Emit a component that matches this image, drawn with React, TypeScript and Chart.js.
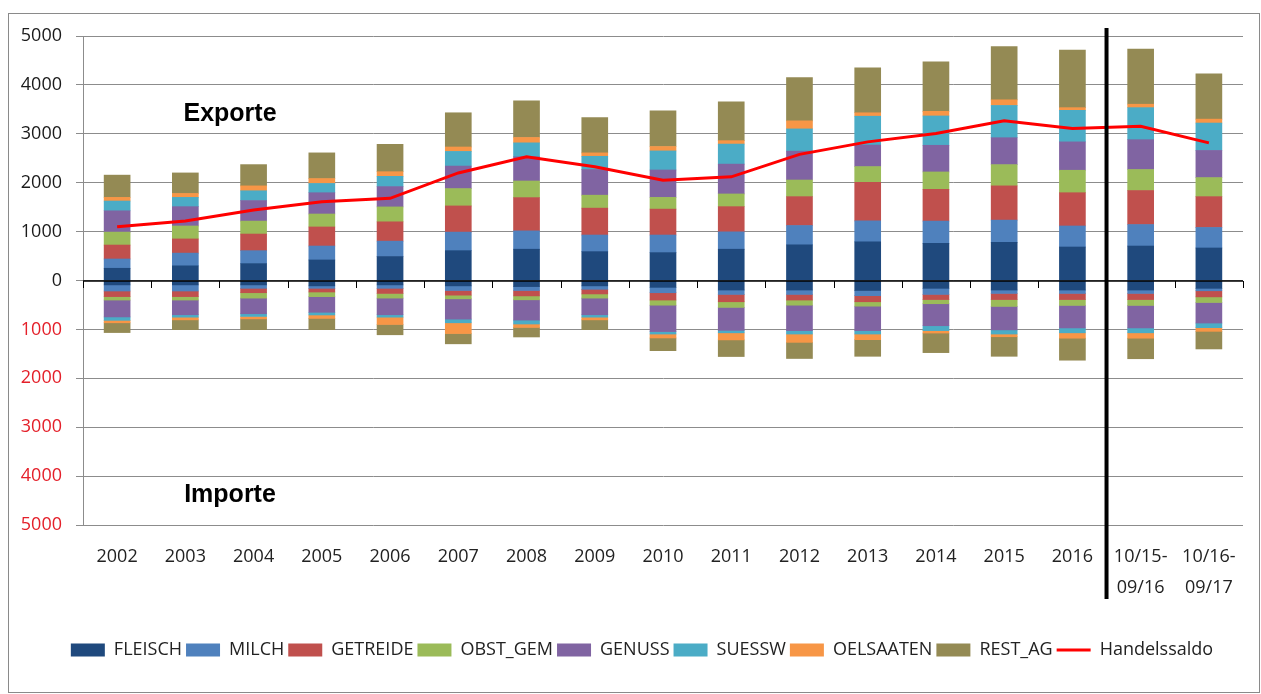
import React, { useEffect, useRef } from 'react';
import { Chart, registerables } from 'chart.js';

Chart.register(...registerables);

const CATEGORIES: (string | string[])[] = [
  '2002', '2003', '2004', '2005', '2006', '2007', '2008', '2009', '2010',
  '2011', '2012', '2013', '2014', '2015', '2016', ['10/15-', '09/16'], ['10/16-', '09/17'],
];

const SERIES_NAMES = ['FLEISCH', 'MILCH', 'GETREIDE', 'OBST_GEM', 'GENUSS', 'SUESSW', 'OELSAATEN', 'REST_AG'];
const SERIES_COLORS = ['#1F497D', '#4F81BD', '#C0504D', '#9BBB59', '#8064A2', '#4BACC6', '#F79646', '#948A54'];

// Exporte (positive)
const FLEISCH_EX = [250, 300, 345, 420, 490, 610, 640, 590, 570, 640, 730, 790, 760, 780, 685, 705, 665];
const MILCH_EX = [190, 260, 265, 285, 315, 380, 375, 340, 360, 355, 395, 430, 455, 455, 430, 440, 420];
const GETREIDE_EX = [285, 290, 340, 390, 395, 535, 680, 550, 530, 515, 590, 790, 650, 700, 680, 695, 630];
const OBST_GEM_EX = [265, 265, 265, 265, 305, 355, 340, 265, 240, 260, 340, 320, 355, 435, 460, 430, 390];
const GENUSS_EX = [435, 395, 420, 435, 415, 460, 495, 525, 560, 610, 590, 440, 545, 550, 580, 610, 555];
const SUESSW_EX = [200, 190, 200, 190, 210, 300, 285, 270, 390, 410, 455, 590, 600, 660, 645, 655, 560];
const OELSAATEN_EX = [75, 80, 100, 100, 95, 90, 110, 70, 90, 70, 165, 70, 95, 115, 55, 70, 80];
const REST_AG_EX = [455, 420, 435, 525, 560, 700, 750, 720, 730, 795, 885, 920, 1010, 1090, 1175, 1130, 925];

// Importe (magnitudes, drawn downward)
const FLEISCH_IM = [90, 90, 90, 110, 90, 110, 125, 110, 140, 195, 195, 205, 160, 195, 195, 195, 160];
const MILCH_IM = [125, 125, 70, 50, 70, 95, 80, 70, 110, 90, 90, 105, 125, 70, 70, 70, 50];
const GETREIDE_IM = [115, 115, 90, 75, 105, 95, 110, 95, 150, 150, 115, 125, 105, 125, 125, 125, 125];
const OBST_GEM_IM = [70, 70, 110, 95, 95, 75, 80, 85, 105, 115, 105, 90, 85, 140, 120, 120, 115];
const GENUSS_IM = [345, 300, 320, 320, 340, 415, 415, 340, 540, 470, 520, 500, 450, 480, 460, 460, 420];
const SUESSW_IM = [70, 50, 55, 55, 50, 75, 80, 50, 50, 50, 70, 70, 100, 85, 100, 100, 95];
const OELSAATEN_IM = [50, 55, 50, 70, 150, 220, 70, 55, 80, 145, 170, 115, 50, 55, 110, 110, 75];
const REST_AG_IM = [200, 200, 220, 230, 210, 210, 195, 200, 260, 340, 330, 340, 400, 400, 450, 420, 360];

const HANDELSSALDO = [1100, 1215, 1440, 1610, 1680, 2200, 2530, 2325, 2050, 2120, 2580, 2835, 3005, 3265, 3110, 3155, 2815];

const Y_TICKS = [-5000, -4000, -3000, -2000, -1000, 0, 1000, 2000, 3000, 4000, 5000];

const EXPORTS = [FLEISCH_EX, MILCH_EX, GETREIDE_EX, OBST_GEM_EX, GENUSS_EX, SUESSW_EX, OELSAATEN_EX, REST_AG_EX];
const IMPORTS = [FLEISCH_IM, MILCH_IM, GETREIDE_IM, OBST_GEM_IM, GENUSS_IM, SUESSW_IM, OELSAATEN_IM, REST_AG_IM];

const FONT = "'Open Sans', 'Noto Sans', sans-serif";
const W = 1250;
const H = 678;

export default function App() {
  const ref = useRef<HTMLCanvasElement>(null);

  useEffect(() => {
    const canvas = ref.current;
    if (!canvas) return;

    const datasets: any[] = [];
    SERIES_NAMES.forEach((name, i) => {
      datasets.push({
        type: 'bar', label: name, data: EXPORTS[i], backgroundColor: SERIES_COLORS[i],
        stack: 'a', order: 1, barThickness: 26, borderWidth: 0,
      });
    });
    SERIES_NAMES.forEach((name, i) => {
      datasets.push({
        type: 'bar', label: '_imp_' + name, data: IMPORTS[i].map((v) => -v), backgroundColor: SERIES_COLORS[i],
        stack: 'a', order: 1, barThickness: 26, borderWidth: 0,
      });
    });
    datasets.push({
      type: 'line', label: 'Handelssaldo', data: HANDELSSALDO, borderColor: '#ff0000', backgroundColor: '#ff0000',
      borderWidth: 3, pointRadius: 0, tension: 0, stack: 'line', order: 0, fill: false,
    });

    const overlay = {
      id: 'overlay',
      afterLayout(chart: any) {
        const lg = chart.legend;
        if (lg) {
          lg.left = 32;
        }
      },
      afterDatasetsDraw(chart: any) {
        const { ctx, chartArea } = chart;
        const xs = chart.scales.x;
        const ys = chart.scales.y;
        const y0 = Math.round(ys.getPixelForValue(0));
        const step = xs.getPixelForValue(1) - xs.getPixelForValue(0);
        ctx.save();
        ctx.strokeStyle = '#000';
        ctx.lineWidth = 1.5;
        ctx.beginPath();
        ctx.moveTo(chartArea.left, y0);
        ctx.lineTo(chartArea.right, y0);
        ctx.stroke();
        ctx.lineWidth = 1;
        for (let i = 0; i <= CATEGORIES.length; i++) {
          const px = Math.round(xs.getPixelForValue(0) - step / 2 + i * step) + 0.5;
          ctx.beginPath();
          ctx.moveTo(px, y0);
          ctx.lineTo(px, y0 + 7);
          ctx.stroke();
        }
        ctx.restore();
      },
      afterDraw(chart: any) {
        const { ctx, chartArea } = chart;
        const xs = chart.scales.x;
        const ys = chart.scales.y;
        const vx = (xs.getPixelForValue(14) + xs.getPixelForValue(15)) / 2;
        ctx.save();
        ctx.strokeStyle = '#000';
        ctx.lineWidth = 4;
        ctx.beginPath();
        ctx.moveTo(vx, chartArea.top - 8);
        ctx.lineTo(vx, chartArea.bottom + 74);
        ctx.stroke();
        ctx.fillStyle = '#000';
        ctx.font = "bold 25px 'Liberation Sans', sans-serif";
        ctx.textAlign = 'center';
        ctx.textBaseline = 'middle';
        const tx = chartArea.left + 147;
        ctx.fillText('Exporte', tx, ys.getPixelForValue(3400));
        ctx.fillText('Importe', tx, ys.getPixelForValue(-4380));
        ctx.restore();
      },
    };

    const chart = new Chart(canvas, {
      type: 'bar',
      data: { labels: CATEGORIES as any, datasets },
      options: {
        responsive: false,
        animation: false,
        devicePixelRatio: 1,
        events: [],
        layout: { padding: { left: 0, right: 16, top: 22, bottom: 23 } },
        plugins: {
          tooltip: { enabled: false },
          legend: {
            position: 'bottom',
            align: 'center',
            labels: {
              usePointStyle: true,
              pointStyleWidth: 34,
              boxHeight: 13,
              padding: 4,
              color: '#222',
              font: { family: FONT, size: 18 },
              generateLabels: (ch: any) =>
                ch.data.datasets
                  .map((ds: any, i: number) => ({ ds, i }))
                  .filter(({ ds }: any) => !String(ds.label).startsWith('_imp_'))
                  .map(({ ds, i }: any) =>
                    ds.type === 'line'
                      ? { text: ds.label, fillStyle: ds.borderColor, strokeStyle: ds.borderColor, lineWidth: 3, pointStyle: 'line', hidden: false, datasetIndex: i, fontColor: '#222' }
                      : { text: ds.label, fillStyle: ds.backgroundColor, strokeStyle: ds.backgroundColor, lineWidth: 0, pointStyle: 'rect', hidden: false, datasetIndex: i, fontColor: '#222' }
                  ),
            },
          },
        },
        scales: {
          x: {
            stacked: true,
            offset: true,
            grid: { display: false, drawTicks: false },
            border: { display: false },
            ticks: {
              autoSkip: false,
              maxRotation: 0,
              minRotation: 0,
              padding: 16,
              color: '#222',
              font: { family: FONT, size: 18, lineHeight: 1.72 },
            },
            afterFit: (s: any) => { s.height = 112; },
          },
          y: {
            stacked: true,
            min: -5000,
            max: 5000,
            afterBuildTicks: (s: any) => { s.ticks = Y_TICKS.map((v) => ({ value: v })); },
            grid: { color: '#8c8c8c', lineWidth: 1, tickLength: 7 },
            border: { display: true, color: '#8c8c8c', width: 1 },
            ticks: {
              padding: 14,
              font: { family: FONT, size: 18 },
              color: (c: any) => (c.tick && c.tick.value < 0 ? '#e4202a' : '#1a1a1a'),
              callback: (v: any) => String(Math.abs(Number(v))),
            },
            afterFit: (s: any) => { s.width = 74; s.paddingTop = 12; s.paddingBottom = 12; },
          },
        },
      } as any,
      plugins: [overlay],
    });

    return () => chart.destroy();
  }, []);

  return (
    <div style={{ position: 'absolute', left: 8, top: 13, width: W, height: H, border: '1px solid #8a8a8a', background: '#fff' }}>
      <canvas ref={ref} width={W} height={H} style={{ display: 'block', width: W, height: H }} />
    </div>
  );
}
